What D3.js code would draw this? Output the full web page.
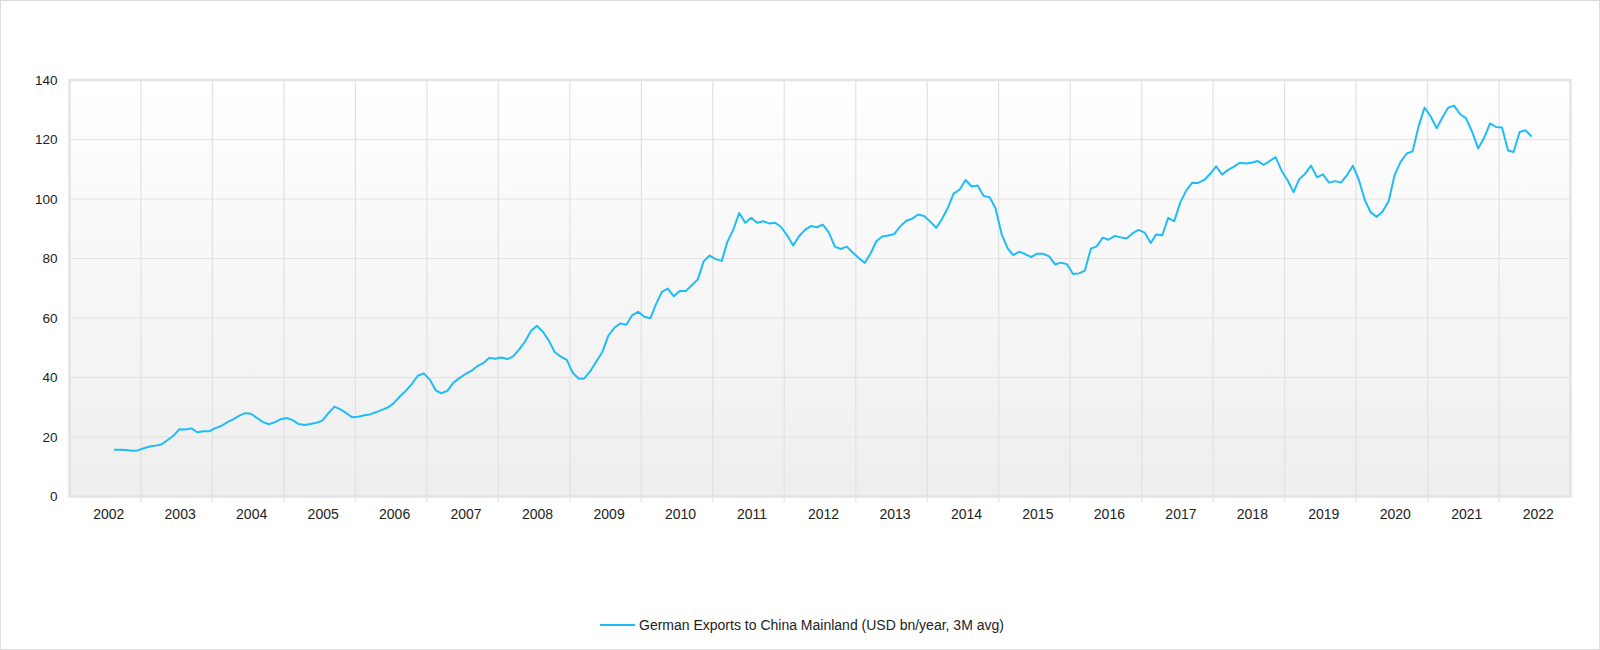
<!DOCTYPE html>
<html>
<head>
<meta charset="utf-8">
<script src="https://cdn.jsdelivr.net/npm/d3@7"></script>
<style>
  body { margin: 0; background: #fff; }
  svg { display: block; font-family: "Liberation Sans", Arial, sans-serif; }
</style>
</head>
<body>
<svg id="chart" width="1600" height="650"></svg>
<script>
width = 1600
height = 650

// monthly series, first value is Aug 2002, last is Jun 2022
var firstMonth = "2002-08"
var values = [
  15.7, 15.7, 15.6, 15.4, 15.5,
  16.2, 16.8, 17.1, 17.5, 18.9, 20.4, 22.6, 22.5, 22.9, 21.6, 21.9, 21.9,
  23.0, 23.7, 24.9, 25.9, 27.1, 28.0, 27.8, 26.4, 25.0, 24.3, 25.0, 26.0,
  26.4, 25.6, 24.4, 24.0, 24.4, 24.8, 25.5, 28.0, 30.2, 29.3, 28.0, 26.6,
  26.8, 27.3, 27.6, 28.3, 29.1, 29.9, 31.4, 33.6, 35.6, 37.8, 40.6, 41.4,
  39.3, 35.6, 34.7, 35.5, 38.2, 39.8, 41.1, 42.2, 43.8, 44.8, 46.6, 46.3,
  46.7, 46.2, 47.0, 49.4, 52.0, 55.6, 57.4, 55.4, 52.3, 48.5, 47.0, 45.9,
  41.5, 39.6, 39.7, 42.2, 45.4, 48.6, 54.0, 56.7, 58.2, 57.7, 61.0, 62.1,
  60.4, 59.9, 64.5, 68.8, 69.9, 67.3, 69.1, 69.1, 71.0, 72.9, 79.1, 81.0,
  79.8, 79.2, 85.5, 89.7, 95.3, 92.0, 93.7, 92.0, 92.5, 91.8, 92.0, 90.6,
  87.8, 84.4, 87.4, 89.6, 90.9, 90.5, 91.4, 88.8, 84.0, 83.2, 84.0, 82.0,
  80.2, 78.5, 81.5, 85.8, 87.4, 87.7, 88.2, 90.8, 92.7, 93.4, 94.8, 94.3,
  92.4, 90.3, 93.1, 97.0, 101.8, 103.2, 106.4, 104.2, 104.5, 101.0, 100.6, 96.8,
  88.2, 83.4, 81.1, 82.3, 81.5, 80.5, 81.6, 81.6, 80.7, 78.0, 78.6, 78.1,
  74.8, 75.0, 75.9, 83.3, 84.1, 87.0, 86.3, 87.6, 87.1, 86.7, 88.5, 89.6,
  88.7, 85.2, 88.1, 87.8, 93.7, 92.5, 98.7, 102.8, 105.5, 105.4, 106.4, 108.4,
  111.0, 108.2, 109.7, 110.8, 112.2, 111.9, 112.2, 112.8, 111.5, 112.7, 114.1, 109.6,
  106.3, 102.3, 106.6, 108.5, 111.2, 107.3, 108.3, 105.5, 106.0, 105.5, 108.0, 111.2,
  106.3, 99.5, 95.5, 94.0, 95.8, 99.3, 108.0, 112.5, 115.3, 116.0, 124.5, 130.7,
  127.8, 123.8, 127.2, 130.7, 131.4, 128.5, 127.2, 122.6, 117.0, 120.5, 125.4, 124.2,
  124.0, 116.3, 115.8, 122.5, 123.1, 121.0
]

var years = [2002, 2003, 2004, 2005, 2006, 2007, 2008, 2009, 2010, 2011,
             2012, 2013, 2014, 2015, 2016, 2017, 2018, 2019, 2020, 2021, 2022]
var yTicks = [0, 20, 40, 60, 80, 100, 120, 140]
var seriesName = "German Exports to China Mainland (USD bn/year, 3M avg)"
var lineColor = "#1fbdf7"

var plot = {left: 69.5, right: 1570.5, top: 80, bottom: 496.5}

var parseMonth = d3.timeParse("%Y-%m")
var start = parseMonth(firstMonth)
var data = values.map(function(v, i) {
  var d = d3.timeMonth.offset(start, i)
  // plot each month in the middle of the month
  return {date: d3.timeDay.offset(d, 15), value: v}
})

var x = d3.scaleTime()
    .domain([new Date(years[0], 0, 1), new Date(years[years.length - 1] + 1, 0, 1)])
    .range([plot.left, plot.right])
var y = d3.scaleLinear()
    .domain([0, 140])
    .range([plot.bottom, plot.top])

var svg = d3.select("#chart")

// outer frame
svg.append("rect")
    .attr("x", 0.5).attr("y", 0.5)
    .attr("width", width - 1).attr("height", height - 1)
    .attr("fill", "#fff")
    .attr("stroke", "#dcdcdc")

var grad = svg.append("defs").append("linearGradient")
    .attr("id", "bg").attr("x1", 0).attr("y1", 0).attr("x2", 0).attr("y2", 1)
grad.append("stop").attr("offset", "0%").attr("stop-color", "#ffffff")
grad.append("stop").attr("offset", "100%").attr("stop-color", "#eeeeee")

svg.append("rect")
    .attr("x", plot.left).attr("y", plot.top)
    .attr("width", plot.right - plot.left)
    .attr("height", plot.bottom - plot.top)
    .attr("fill", "url(#bg)")

// horizontal grid
svg.append("g")
    .selectAll("line")
    .data(yTicks)
    .join("line")
    .attr("x1", plot.left).attr("x2", plot.right)
    .attr("y1", function(d) { return y(d) }).attr("y2", function(d) { return y(d) })
    .attr("stroke", "#e1e1e1")
    .attr("stroke-width", 1.2)

// vertical grid at year boundaries + small ticks under the axis
var bounds = years.slice(1).map(function(yr) { return new Date(yr, 0, 1) })
svg.append("g")
    .selectAll("line")
    .data(bounds)
    .join("line")
    .attr("x1", function(d) { return x(d) }).attr("x2", function(d) { return x(d) })
    .attr("y1", plot.top).attr("y2", plot.bottom + 5)
    .attr("stroke", "#e1e1e1")
    .attr("stroke-width", 1.2)

// plot frame
svg.append("rect")
    .attr("x", plot.left).attr("y", plot.top)
    .attr("width", plot.right - plot.left)
    .attr("height", plot.bottom - plot.top)
    .attr("fill", "none")
    .attr("stroke", "#e3e3e3")
    .attr("stroke-width", 2.5)

// y labels
svg.append("g")
    .selectAll("text")
    .data(yTicks)
    .join("text")
    .attr("x", plot.left - 12)
    .attr("y", function(d) { return y(d) })
    .attr("dy", "0.35em")
    .attr("text-anchor", "end")
    .attr("font-size", "13.5px")
    .attr("fill", "#222")
    .text(function(d) { return d })

// year labels, a little right of each band's centre
svg.append("g")
    .selectAll("text")
    .data(years)
    .join("text")
    .attr("x", function(d) { return (x(new Date(d, 0, 1)) + x(new Date(d + 1, 0, 1))) / 2 + 3.5 })
    .attr("y", plot.bottom + 22)
    .attr("text-anchor", "middle")
    .attr("font-size", "14px")
    .attr("fill", "#222")
    .text(function(d) { return d })

var line = d3.line()
    .x(function(d) { return x(d.date) })
    .y(function(d) { return y(d.value) })

svg.append("path")
    .datum(data)
    .attr("d", line)
    .attr("fill", "none")
    .attr("stroke", lineColor)
    .attr("stroke-width", 2)
    .attr("stroke-linejoin", "round")

// legend
var legend = svg.append("g").attr("transform", "translate(600,625)")
legend.append("line")
    .attr("x1", 0).attr("x2", 35)
    .attr("y1", 0).attr("y2", 0)
    .attr("stroke", lineColor)
    .attr("stroke-width", 2)
legend.append("text")
    .attr("x", 39)
    .attr("y", 0)
    .attr("dy", "0.35em")
    .attr("font-size", "14px")
    .attr("fill", "#222")
    .text(seriesName)
</script>
</body>
</html>
